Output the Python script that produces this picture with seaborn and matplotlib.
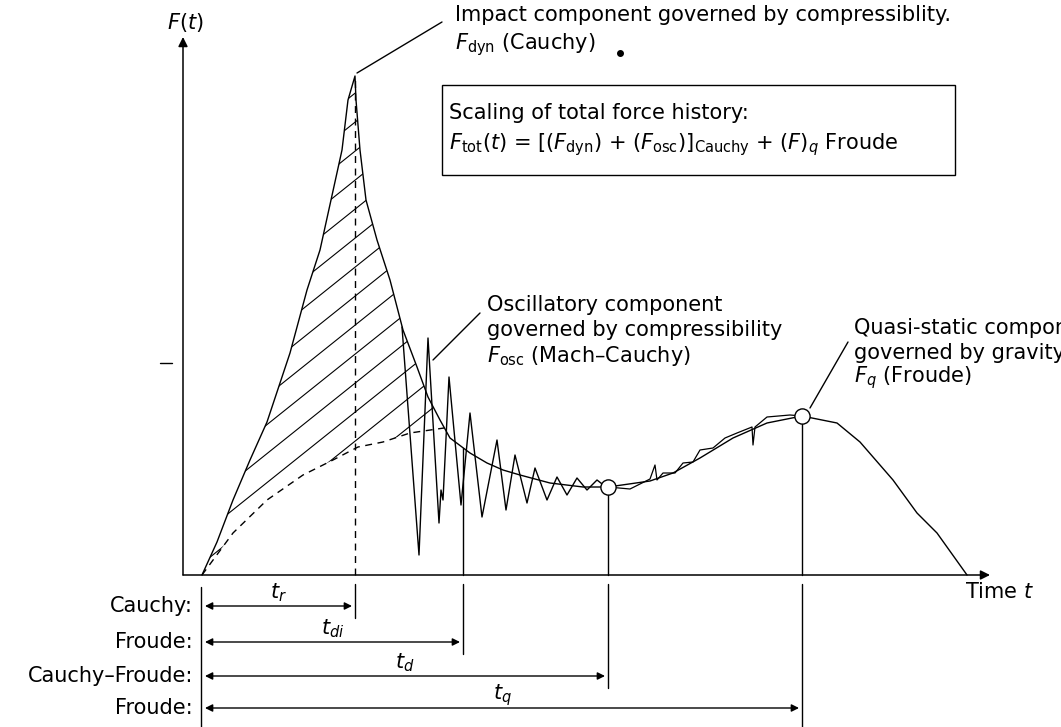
"""
Schematic of an impact force history F(t) and the scaling laws of its components.
Coordinates: t and F in drawing units, origin at the corner of the axes.
"""

import matplotlib.pyplot as plt
import numpy as np
from matplotlib.patches import Polygon, Rectangle
import seaborn as sns

# total force: rise to impact peak, decay, quasi-static hump, release
MAIN_T = [0, 15, 31, 48, 65, 88, 105, 118, 140, 146, 153, 154, 158, 164, 175, 188,
          201, 215, 226, 238, 248, 268, 285, 301, 318, 348, 381, 406, 448, 471,
          498, 531, 565, 600, 635, 658, 691, 715, 735, 765]
MAIN_F = [0, 33, 75, 115, 153, 222, 285, 325, 425, 475, 499, 475, 425, 375, 335, 295,
          245, 208, 178, 155, 137, 122, 112, 105, 100, 92, 88, 88, 94, 102,
          117, 137, 152, 159, 152, 133, 95, 62, 42, 0]

# quasi-static part under the impact peak (dashed)
QUASI_T = [0, 31, 65, 101, 131, 156, 181, 208, 242]
QUASI_F = [0, 42, 75, 100, 115, 128, 133, 142, 147]

# oscillatory component
OSC_T = [200, 217, 226, 237, 239, 241, 247, 259, 268, 280, 295, 304, 313, 325,
         333, 345, 355, 365, 375, 385, 395, 404]
OSC_F = [248, 20, 237, 52, 85, 75, 198, 70, 162, 58, 135, 65, 120, 72,
         107, 75, 98, 80, 97, 85, 95, 88]

# measured trace on the quasi-static rise
RISE_T = [406, 428, 448, 453, 455, 461, 473, 481, 491, 498, 511, 523, 535,
          550, 551, 553, 565, 588, 600]
RISE_F = [88, 86, 96, 110, 95, 102, 102, 112, 113, 125, 127, 137, 142,
          148, 130, 148, 158, 160, 159]

# characteristic durations
DURATION_NAMES = ["Cauchy:", "Froude:", "Cauchy–Froude:", "Froude:"]
DURATION_SYMBOLS = [r"$t_r$", r"$t_{di}$", r"$t_d$", r"$t_q$"]
DURATION_ENDS = [153, 261, 406, 600]
DURATION_ROWS = [-31, -67, -101, -133]

X_MIN, X_MAX = -202, 859
Y_MIN, Y_MAX = -152, 575
AXIS_T = -19
AXIS_TOP = 538
AXIS_END = 788

BOX_T, BOX_F, BOX_W, BOX_H = 240, 400, 513, 90
FONT_SIZE = 15


def main() -> None:
    sns.set_theme(style="white")
    plt.rcParams["font.family"] = ["DejaVu Sans"]
    plt.rcParams["mathtext.fontset"] = "dejavusans"
    plt.rcParams["text.color"] = "black"

    fig = plt.figure(figsize=(10.61, 7.27), dpi=100)
    ax = fig.add_axes([0, 0, 1, 1])
    ax.set_xlim(X_MIN, X_MAX)
    ax.set_ylim(Y_MIN, Y_MAX)
    ax.axis("off")

    line_kw = dict(color="black", linewidth=1.0)

    # axes with arrow heads
    arrow_kw = dict(arrowstyle="-|>", color="black", lw=1.1, mutation_scale=14,
                    shrinkA=0, shrinkB=0)
    ax.annotate("", xy=(AXIS_T, AXIS_TOP), xytext=(AXIS_T, 0), arrowprops=arrow_kw)
    ax.annotate("", xy=(AXIS_END, 0), xytext=(AXIS_T, 0), arrowprops=arrow_kw)
    ax.plot([AXIS_T - 23, AXIS_T - 11], [212, 212], **line_kw)
    ax.text(AXIS_T + 2, 553, r"$F(t)$", fontsize=FONT_SIZE, ha="center", va="center")
    ax.text(763, -17, r"Time $t$", fontsize=FONT_SIZE, ha="left", va="center")

    # hatched impact component between the total and quasi-static curves
    main_t = np.array(MAIN_T, dtype=float)
    main_f = np.array(MAIN_F, dtype=float)
    upper = main_t <= QUASI_T[-1]
    region = np.vstack([
        np.column_stack([main_t[upper], main_f[upper]]),
        np.column_stack([QUASI_T[::-1], QUASI_F[::-1]]),
    ])
    clip = Polygon(region, closed=True, facecolor="none", edgecolor="none")
    ax.add_patch(clip)
    slope = 0.8
    offsets = region[:, 1] - slope * region[:, 0]
    for c in np.arange(offsets.min(), offsets.max(), 29.0):
        hatch_t = np.array([region[:, 0].min(), region[:, 0].max()])
        (hatch,) = ax.plot(hatch_t, slope * hatch_t + c, color="black", linewidth=0.8)
        hatch.set_clip_path(clip)

    sns.lineplot(x=MAIN_T, y=MAIN_F, sort=False, estimator=None, ax=ax, **line_kw)
    sns.lineplot(x=QUASI_T, y=QUASI_F, sort=False, estimator=None, ax=ax,
                 color="black", linewidth=1.0, linestyle=(0, (5, 4)))
    sns.lineplot(x=OSC_T, y=OSC_F, sort=False, estimator=None, ax=ax, **line_kw)
    sns.lineplot(x=RISE_T, y=RISE_F, sort=False, estimator=None, ax=ax,
                 color="black", linewidth=0.9)

    # markers for the characteristic times
    peak_f = main_f.max()
    ax.plot([DURATION_ENDS[0]] * 2, [0, peak_f], color="black", linewidth=1.0,
            linestyle=(0, (5, 4)))
    for end in DURATION_ENDS[1:]:
        ax.plot([end, end], [0, np.interp(end, main_t, main_f)], **line_kw)
    marked = DURATION_ENDS[2:]
    sns.scatterplot(x=marked, y=np.interp(marked, main_t, main_f), s=120,
                    facecolor="white", edgecolor="black", linewidth=1.0,
                    zorder=5, ax=ax)

    # duration arrows below the time axis
    ax.plot([-1, -1], [-12, Y_MIN], **line_kw)
    for i, (name, symbol, end, row) in enumerate(
            zip(DURATION_NAMES, DURATION_SYMBOLS, DURATION_ENDS, DURATION_ROWS)):
        bottom = Y_MIN if i == len(DURATION_ROWS) - 1 else row - 12
        ax.plot([end, end], [-9, bottom], **line_kw)
        ax.annotate("", xy=(end - 3, row), xytext=(3, row),
                    arrowprops=dict(arrowstyle="<|-|>", color="black", lw=1.0,
                                    mutation_scale=11, shrinkA=0, shrinkB=0))
        ax.text(-9, row, name, fontsize=FONT_SIZE, ha="right", va="center")
        ax.text(end / 2, row + 13, symbol, fontsize=FONT_SIZE, ha="center",
                va="center")

    # leaders and annotations
    ax.plot([155, 240], [502, 553], **line_kw)
    ax.text(253, 560, "Impact component governed by compressiblity.",
            fontsize=FONT_SIZE, va="center")
    ax.text(253, 530, r"$F_{\rm dyn}$ (Cauchy)", fontsize=FONT_SIZE, va="center")
    ax.plot([418], [522], "o", color="black", markersize=4)

    ax.add_patch(Rectangle((BOX_T, BOX_F), BOX_W, BOX_H, fill=False,
                           edgecolor="black", linewidth=1.0))
    ax.text(BOX_T + 7, 462, "Scaling of total force history:", fontsize=FONT_SIZE,
            va="center")
    ax.text(BOX_T + 7, 430,
            r"$F_{\rm tot}(t)$ = [($F_{\rm dyn}$) + ($F_{\rm osc}$)]$_{\rm Cauchy}$"
            r" + ($F$)$_q$ Froude",
            fontsize=FONT_SIZE, va="center")

    ax.plot([231, 278], [215, 262], **line_kw)
    ax.text(285, 270, "Oscillatory component", fontsize=FONT_SIZE, va="center")
    ax.text(285, 245, "governed by compressibility", fontsize=FONT_SIZE, va="center")
    ax.text(285, 219, r"$F_{\rm osc}$ (Mach–Cauchy)", fontsize=FONT_SIZE,
            va="center")

    ax.plot([608, 646], [167, 233], **line_kw)
    ax.text(652, 247, "Quasi-static component", fontsize=FONT_SIZE, va="center")
    ax.text(652, 222, "governed by gravity", fontsize=FONT_SIZE, va="center")
    ax.text(652, 197, r"$F_q$ (Froude)", fontsize=FONT_SIZE, va="center")

    fig.savefig("out.png", dpi=100)
    plt.close(fig)


if __name__ == "__main__":
    main()
